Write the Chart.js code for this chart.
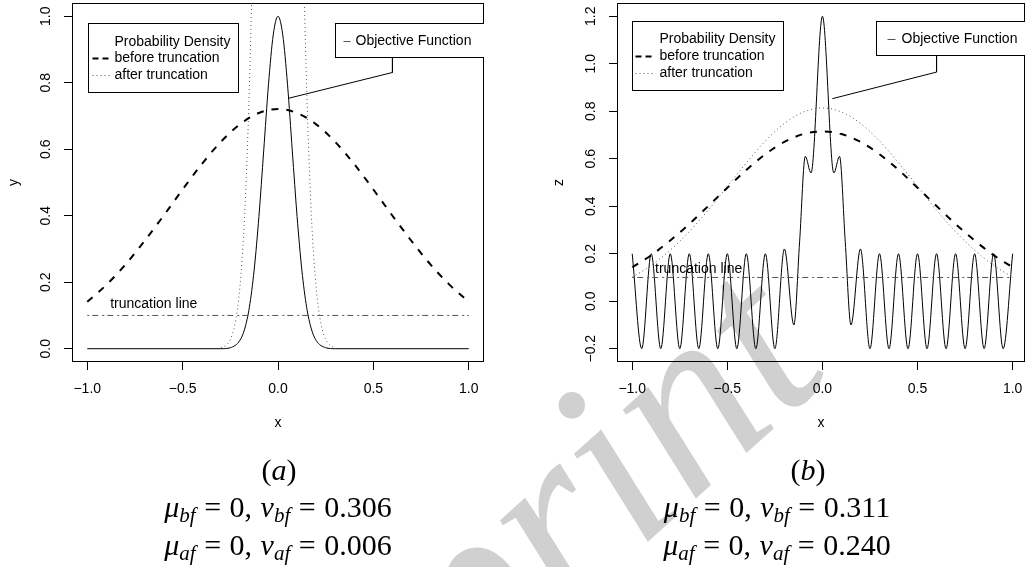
<!DOCTYPE html>
<html>
<head>
<meta charset="utf-8">
<script src="https://cdn.jsdelivr.net/npm/chart.js@4.4.0/dist/chart.umd.min.js"></script>
<style>
  html, body { margin: 0; padding: 0; background: #fff; }
  #page { position: relative; width: 1026px; height: 567px; overflow: hidden; }
  #wm { position: absolute; left: 0; top: 0; }
  .plot { position: absolute; top: 0; width: 513px; height: 440px; }
  .cap { position: absolute; font-family: "Liberation Serif", serif; font-size: 30px; line-height: 30px;
         color: #000; white-space: nowrap; transform: translateX(-50%); word-spacing: 1px; }
  .cap sub { font-size: 70%; vertical-align: -0.25em; line-height: 0; }
</style>
</head>
<body>
<div id="page">
  <canvas id="wm" width="1026" height="567"></canvas>
  <div class="plot" style="left:0"><canvas id="chartA" width="513" height="440"></canvas></div>
  <div class="plot" style="left:513px"><canvas id="chartB" width="513" height="440"></canvas></div>

  <div class="cap" style="left:279px;top:455px">(<i>a</i>)</div>
  <div class="cap" style="left:278px;top:492px"><i>μ</i><sub><i>bf</i></sub> = 0, <i>v</i><sub><i>bf</i></sub> = 0.306</div>
  <div class="cap" style="left:278px;top:530px"><i>μ</i><sub><i>af</i></sub> = 0, <i>v</i><sub><i>af</i></sub> = 0.006</div>

  <div class="cap" style="left:808px;top:455px">(<i>b</i>)</div>
  <div class="cap" style="left:777px;top:492px"><i>μ</i><sub><i>bf</i></sub> = 0, <i>v</i><sub><i>bf</i></sub> = 0.311</div>
  <div class="cap" style="left:777px;top:530px"><i>μ</i><sub><i>af</i></sub> = 0, <i>v</i><sub><i>af</i></sub> = 0.240</div>
</div>

<script>
// ---- tick values ----
const xTicks  = [-1, -0.5, 0, 0.5, 1];
const yTicksA = [0, 0.2, 0.4, 0.6, 0.8, 1.0];
const yTicksB = [-0.2, 0, 0.2, 0.4, 0.6, 0.8, 1.0, 1.2];

// ---- panel (a) ----
const objA_x = [-1, -0.3, -0.25, -0.2, -0.175, -0.15, -0.125, -0.1, -0.075, -0.05, -0.025, 0,
                0.025, 0.05, 0.075, 0.1, 0.125, 0.15, 0.175, 0.2, 0.25, 0.3, 1];
const objA_y = [0, 0, 0.003, 0.025, 0.059, 0.125, 0.237, 0.398, 0.595, 0.794, 0.944, 1,
                0.944, 0.794, 0.595, 0.398, 0.237, 0.125, 0.059, 0.025, 0.003, 0, 0];

const dens_x = [-1, -0.9, -0.8, -0.7, -0.6, -0.5, -0.4, -0.3, -0.2, -0.1, 0,
                0.1, 0.2, 0.3, 0.4, 0.5, 0.6, 0.7, 0.8, 0.9, 1];
const beforeA_y = [0.141, 0.192, 0.253, 0.324, 0.400, 0.479, 0.555, 0.622, 0.675, 0.709, 0.721,
                   0.709, 0.675, 0.622, 0.555, 0.479, 0.400, 0.324, 0.253, 0.192, 0.141];

const afterA_x = [-0.3, -0.275, -0.25, -0.225, -0.2, -0.175, -0.15, -0.125, -0.1, -0.05, 0,
                  0.05, 0.1, 0.125, 0.15, 0.175, 0.2, 0.225, 0.25, 0.275, 0.3];
const afterA_y = [0.003, 0.009, 0.028, 0.076, 0.184, 0.401, 0.790, 1.40, 2.24, 4.18, 5.15,
                  4.18, 2.24, 1.40, 0.790, 0.401, 0.184, 0.076, 0.028, 0.009, 0.003];

const pointerA_x = [0.6, 0.6, 0.053];
const pointerA_y = [0.88, 0.831, 0.753];

// ---- panel (b) ----
const objB_x = [-1, -0.95, -0.9, -0.85, -0.8, -0.75, -0.7, -0.65, -0.6, -0.55, -0.5, -0.45, -0.4,
                -0.35, -0.3, -0.25, -0.2, -0.15, -0.12, -0.09, -0.06, 0,
                0.06, 0.09, 0.12, 0.15, 0.2, 0.25, 0.3, 0.35, 0.4, 0.45, 0.5, 0.55, 0.6, 0.65,
                0.7, 0.75, 0.8, 0.85, 0.9, 0.95, 1];
const objB_y = [0.2, -0.2, 0.2, -0.2, 0.2, -0.2, 0.2, -0.2, 0.2, -0.2, 0.2, -0.2, 0.2,
                -0.2, 0.2, -0.2, 0.22, -0.1, 0.25, 0.61, 0.54, 1.2,
                0.54, 0.61, 0.25, -0.1, 0.22, -0.2, 0.2, -0.2, 0.2, -0.2, 0.2, -0.2, 0.2, -0.2,
                0.2, -0.2, 0.2, -0.2, 0.2, -0.2, 0.2];

const beforeB_y = [0.143, 0.194, 0.256, 0.325, 0.401, 0.478, 0.553, 0.619, 0.671, 0.704, 0.715,
                   0.704, 0.671, 0.619, 0.553, 0.478, 0.401, 0.325, 0.256, 0.194, 0.143];
const afterB_y  = [0.101, 0.151, 0.215, 0.293, 0.384, 0.484, 0.583, 0.675, 0.749, 0.797, 0.814,
                   0.797, 0.749, 0.675, 0.583, 0.484, 0.384, 0.293, 0.215, 0.151, 0.101];

const pointerB_x = [0.6, 0.6, 0.052];
const pointerB_y = [1.04, 0.965, 0.853];

// truncation line, same in both panels
const trunc_x = [-1, 1];
const trunc_y = [0.1, 0.1];
const truncLabel = { x: -0.88, y: 0.135, text: 'truncation line' };

const FONT = '"Liberation Sans", Arial, sans-serif';
const FSIZE = 14;

function pts(xs, ys) { return xs.map((x, i) => ({ x: x, y: ys[i] })); }
function fmt(v) { return (v < 0 ? '\u2212' : '') + Math.abs(v).toFixed(1); }

// box around the plot region, R style
const boxPlugin = {
  id: 'rbox',
  afterDatasetsDraw(chart) {
    const a = chart.chartArea, ctx = chart.ctx;
    ctx.save();
    ctx.strokeStyle = '#000';
    ctx.lineWidth = 1;
    ctx.strokeRect(Math.round(a.left) + 0.5, Math.round(a.top) + 0.5,
                   Math.round(a.right - a.left) - 1, Math.round(a.bottom - a.top) - 1);
    ctx.restore();
  }
};

// legends + truncation label
const notesPlugin = {
  id: 'notes',
  afterDatasetsDraw(chart, args, opts) {
    const a = chart.chartArea, ctx = chart.ctx;
    ctx.save();
    ctx.beginPath();
    ctx.rect(a.left, a.top, a.right - a.left, a.bottom - a.top);
    ctx.clip();
    ctx.font = FSIZE + 'px ' + FONT;
    ctx.textBaseline = 'middle';
    ctx.textAlign = 'left';
    (opts.boxes || []).forEach(b => {
      const bx = Math.round(a.left + b.x) + 0.5, by = Math.round(a.top + b.y) + 0.5;
      ctx.fillStyle = '#fff';
      ctx.fillRect(bx, by, b.w, b.h);
      ctx.strokeStyle = '#000';
      ctx.lineWidth = 1;
      ctx.setLineDash([]);
      ctx.strokeRect(bx, by, b.w, b.h);
      b.rows.forEach(r => {
        const ry = by + r.dy;
        if (r.dash) {
          ctx.beginPath();
          ctx.strokeStyle = r.color || '#000';
          ctx.lineWidth = r.width || 1;
          ctx.setLineDash(r.dash);
          ctx.moveTo(bx + b.s0, ry);
          ctx.lineTo(bx + b.s1, ry);
          ctx.stroke();
        }
        ctx.fillStyle = '#000';
        ctx.fillText(r.text, bx + b.tx, ry);
      });
    });
    const t = opts.label;
    if (t) {
      ctx.fillStyle = '#000';
      ctx.fillText(t.text, chart.scales.x.getPixelForValue(t.x), chart.scales.y.getPixelForValue(t.y));
    }
    ctx.restore();
  }
};

function makeChart(id, cfg) {
  const solid = { borderColor: '#000', borderWidth: 1, pointRadius: 0, fill: false,
                  cubicInterpolationMode: 'monotone', clip: 0 };
  const datasets = [
    Object.assign({}, solid, { label: 'before truncation', data: cfg.before,
      borderWidth: 2, borderDash: [7, 8] }),
    Object.assign({}, solid, { label: 'after truncation', data: cfg.after,
      borderColor: '#555', borderDash: [1, 3] }),
    Object.assign({}, solid, { label: 'truncation', data: pts(trunc_x, trunc_y),
      borderColor: '#555', borderDash: [2, 3, 6, 4], tension: 0, cubicInterpolationMode: 'default' }),
    Object.assign({}, solid, { label: 'Objective Function', data: cfg.obj }),
    Object.assign({}, solid, { label: 'pointer', data: cfg.pointer, tension: 0,
      cubicInterpolationMode: 'default' })
  ];
  const font = { family: FONT, size: FSIZE };
  return new Chart(document.getElementById(id), {
    type: 'line',
    data: { datasets: datasets },
    options: {
      responsive: false,
      animation: false,
      devicePixelRatio: 1,
      layout: { padding: { left: cfg.padLeft, right: cfg.padRight, top: 3, bottom: 0 } },
      plugins: {
        legend: { display: false },
        tooltip: { enabled: false },
        notes: { boxes: cfg.boxes, label: truncLabel }
      },
      scales: {
        x: {
          type: 'linear', min: -1.08, max: cfg.xMax,
          afterBuildTicks: s => { s.ticks = xTicks.map(v => ({ value: v })); },
          afterFit: s => { s.height = 78; s.paddingLeft = 0; s.paddingRight = 0; },
          ticks: { callback: v => fmt(v), color: '#000', font: font,
                   padding: 11, maxRotation: 0, autoSkip: false },
          grid: { drawOnChartArea: false, drawTicks: true, tickLength: 8, color: '#000', lineWidth: 1 },
          border: { display: false },
          title: { display: true, text: 'x', color: '#000', font: font,
                   padding: { top: 4, bottom: 8 } }
        },
        y: {
          type: 'linear', min: cfg.yMin, max: cfg.yMax,
          afterBuildTicks: s => { s.ticks = cfg.yTicks.map(v => ({ value: v })); },
          afterFit: s => { s.width = 72; s.paddingTop = 0; s.paddingBottom = 0; },
          ticks: { callback: v => fmt(v), color: '#000', font: font,
                   minRotation: 90, maxRotation: 90, crossAlign: 'center',
                   padding: cfg.yPad, autoSkip: false },
          grid: { drawOnChartArea: false, drawTicks: true, tickLength: 8, color: '#000', lineWidth: 1 },
          border: { display: false },
          title: { display: true, text: cfg.yTitle, color: '#000', font: font,
                   padding: { top: 6, bottom: 0 } }
        }
      }
    },
    plugins: [boxPlugin, notesPlugin]
  });
}

makeChart('chartA', {
  obj: pts(objA_x, objA_y), before: pts(dens_x, beforeA_y), after: pts(afterA_x, afterA_y),
  pointer: pts(pointerA_x, pointerA_y),
  yMin: -0.04, yMax: 1.04, yTicks: yTicksA, yTitle: 'y', yPad: 8,
  xMax: 1.08, padLeft: 0, padRight: 29,
  boxes: [
    { x: 16, y: 20, w: 150, h: 69, tx: 26, s0: 4, s1: 22, rows: [
      { text: 'Probability Density', dy: 19 },
      { text: 'before truncation', dy: 35, dash: [6, 4], width: 2 },
      { text: 'after truncation', dy: 52, dash: [1, 3], color: '#555' } ] },
    { x: 263, y: 20, w: 220, h: 34, tx: 20, s0: 8, s1: 15, rows: [
      { text: 'Objective Function', dy: 18, dash: [], color: '#555' } ] }
  ]
});

makeChart('chartB', {
  obj: pts(objB_x, objB_y), before: pts(dens_x, beforeB_y), after: pts(dens_x, afterB_y),
  pointer: pts(pointerB_x, pointerB_y),
  yMin: -0.256, yMax: 1.256, yTicks: yTicksB, yTitle: 'z', yPad: 4,
  xMax: 1.065, padLeft: 32, padRight: 1,
  boxes: [
    { x: 15, y: 18, w: 151, h: 69, tx: 27, s0: 3, s1: 23, rows: [
      { text: 'Probability Density', dy: 18 },
      { text: 'before truncation', dy: 35, dash: [6, 4], width: 2 },
      { text: 'after truncation', dy: 52, dash: [1, 3], color: '#555' } ] },
    { x: 259, y: 18, w: 220, h: 34, tx: 25, s0: 11, s1: 19, rows: [
      { text: 'Objective Function', dy: 18, dash: [], color: '#555' } ] }
  ]
});

// faint "Preprint" watermark behind the plots
(function () {
  const c = document.getElementById('wm').getContext('2d');
  c.save();
  c.translate(211, 935);
  c.rotate(-42 * Math.PI / 180);
  c.font = 'italic 250px "Liberation Serif", serif';
  c.fillStyle = '#d0d0d0';
  c.textBaseline = 'alphabetic';
  c.fillText('Preprint', 0, 0);
  c.restore();
})();
</script>
</body>
</html>
